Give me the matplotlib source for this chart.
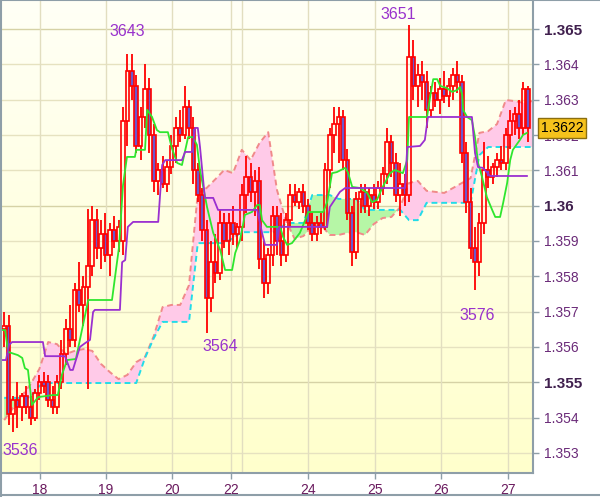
import numpy as np
import matplotlib
matplotlib.use("Agg")
import matplotlib.pyplot as plt
from matplotlib.colors import LinearSegmentedColormap
from matplotlib.lines import Line2D
import matplotlib.transforms as mtransforms

plt.rcParams['font.family'] = ['Liberation Sans', 'DejaVu Sans']

# candles, one per bar slot
opens = [1.3565, 1.3566, 1.3541, 1.3545, 1.3543, 1.3546, 1.3543, 1.3540, 1.3547, 1.3550,
         1.3550, 1.3545, 1.3543, 1.3550, 1.3558, 1.3565, 1.3562, 1.3576, 1.3572, 1.3577,
         1.3583, 1.3596, 1.3588, 1.3592, 1.3586, 1.3593, 1.3590, 1.3590, 1.3624, 1.3638,
         1.3634, 1.3617, 1.3625, 1.3633, 1.3620, 1.3607, 1.3610, 1.3606, 1.3611, 1.3617,
         1.3622, 1.3620, 1.3628, 1.3622, 1.3610, 1.3603, 1.3593, 1.3574, 1.3584, 1.3581,
         1.3595, 1.3590, 1.3595, 1.3592, 1.3594, 1.3603, 1.3608, 1.3604, 1.3607, 1.3585,
         1.3578, 1.3586, 1.3597, 1.3590, 1.3586, 1.3596, 1.3603, 1.3601, 1.3604, 1.3600,
         1.3595, 1.3592, 1.3595, 1.3594, 1.3610, 1.3620, 1.3623, 1.3625, 1.3613, 1.3598,
         1.3587, 1.3602, 1.3604, 1.3600, 1.3603, 1.3601, 1.3605, 1.3609, 1.3618, 1.3612,
         1.3603, 1.3606, 1.3603, 1.3642, 1.3634, 1.3637, 1.3635, 1.3627, 1.3632, 1.3630,
         1.3633, 1.3631, 1.3634, 1.3637, 1.3635, 1.3615, 1.3601, 1.3588, 1.3584, 1.3595,
         1.3610, 1.3608, 1.3611, 1.3613, 1.3612, 1.3620, 1.3624, 1.3626, 1.3622, 1.3633]
highs = [1.3570, 1.3569, 1.3546, 1.3550, 1.3547, 1.3549, 1.3546, 1.3548, 1.3552, 1.3553,
         1.3552, 1.3549, 1.3552, 1.3562, 1.3568, 1.3572, 1.3578, 1.3584, 1.3580, 1.3599,
         1.3600, 1.3599, 1.3596, 1.3598, 1.3595, 1.3597, 1.3596, 1.3628, 1.3643, 1.3643,
         1.3637, 1.3628, 1.3640, 1.3636, 1.3623, 1.3612, 1.3614, 1.3613, 1.3620, 1.3625,
         1.3627, 1.3634, 1.3630, 1.3625, 1.3612, 1.3605, 1.3596, 1.3590, 1.3592, 1.3599,
         1.3598, 1.3598, 1.3600, 1.3595, 1.3606, 1.3614, 1.3612, 1.3610, 1.3611, 1.3590,
         1.3588, 1.3600, 1.3600, 1.3598, 1.3598, 1.3606, 1.3606, 1.3605, 1.3606, 1.3602,
         1.3598, 1.3597, 1.3598, 1.3612, 1.3622, 1.3628, 1.3628, 1.3627, 1.3616, 1.3600,
         1.3604, 1.3606, 1.3606, 1.3605, 1.3606, 1.3607, 1.3611, 1.3622, 1.3620, 1.3615,
         1.3612, 1.3609, 1.3651, 1.3647, 1.3640, 1.3641, 1.3638, 1.3634, 1.3635, 1.3636,
         1.3638, 1.3636, 1.3639, 1.3641, 1.3637, 1.3618, 1.3605, 1.3594, 1.3598, 1.3618,
         1.3614, 1.3612, 1.3615, 1.3617, 1.3622, 1.3627, 1.3628, 1.3630, 1.3635, 1.3634]
lows = [1.3560, 1.3538, 1.3536, 1.3537, 1.3539, 1.3541, 1.3538, 1.3539, 1.3545, 1.3547,
        1.3543, 1.3541, 1.3541, 1.3548, 1.3555, 1.3560, 1.3560, 1.3570, 1.3566, 1.3548,
        1.3580, 1.3585, 1.3582, 1.3584, 1.3580, 1.3588, 1.3587, 1.3586, 1.3617, 1.3630,
        1.3615, 1.3613, 1.3622, 1.3615, 1.3604, 1.3603, 1.3605, 1.3604, 1.3609, 1.3612,
        1.3618, 1.3619, 1.3619, 1.3606, 1.3601, 1.3590, 1.3564, 1.3570, 1.3578, 1.3579,
        1.3588, 1.3586, 1.3589, 1.3588, 1.3590, 1.3598, 1.3601, 1.3597, 1.3582, 1.3574,
        1.3575, 1.3583, 1.3586, 1.3583, 1.3584, 1.3594, 1.3600, 1.3599, 1.3598, 1.3593,
        1.3590, 1.3590, 1.3592, 1.3593, 1.3605, 1.3615, 1.3612, 1.3610, 1.3596, 1.3583,
        1.3585, 1.3598, 1.3598, 1.3597, 1.3599, 1.3599, 1.3603, 1.3606, 1.3608, 1.3601,
        1.3597, 1.3600, 1.3601, 1.3630, 1.3628, 1.3630, 1.3622, 1.3625, 1.3628, 1.3626,
        1.3629, 1.3628, 1.3630, 1.3632, 1.3612, 1.3598, 1.3585, 1.3576, 1.3580, 1.3592,
        1.3605, 1.3606, 1.3608, 1.3610, 1.3610, 1.3616, 1.3620, 1.3619, 1.3620, 1.3618]
closes = [1.3566, 1.3541, 1.3545, 1.3543, 1.3546, 1.3543, 1.3540, 1.3547, 1.3550, 1.3549,
          1.3545, 1.3543, 1.3550, 1.3558, 1.3565, 1.3562, 1.3576, 1.3572, 1.3577, 1.3583,
          1.3596, 1.3588, 1.3592, 1.3586, 1.3593, 1.3590, 1.3594, 1.3624, 1.3638, 1.3634,
          1.3617, 1.3625, 1.3633, 1.3620, 1.3607, 1.3610, 1.3606, 1.3611, 1.3617, 1.3622,
          1.3620, 1.3628, 1.3622, 1.3610, 1.3603, 1.3593, 1.3574, 1.3584, 1.3581, 1.3595,
          1.3590, 1.3595, 1.3592, 1.3594, 1.3603, 1.3608, 1.3604, 1.3607, 1.3585, 1.3578,
          1.3586, 1.3597, 1.3590, 1.3586, 1.3596, 1.3603, 1.3601, 1.3604, 1.3600, 1.3595,
          1.3592, 1.3595, 1.3594, 1.3610, 1.3620, 1.3623, 1.3625, 1.3613, 1.3598, 1.3587,
          1.3602, 1.3604, 1.3600, 1.3603, 1.3601, 1.3605, 1.3609, 1.3618, 1.3612, 1.3603,
          1.3606, 1.3603, 1.3642, 1.3634, 1.3637, 1.3635, 1.3627, 1.3632, 1.3630, 1.3633,
          1.3631, 1.3634, 1.3637, 1.3635, 1.3615, 1.3601, 1.3588, 1.3584, 1.3595, 1.3610,
          1.3608, 1.3611, 1.3613, 1.3612, 1.3620, 1.3624, 1.3626, 1.3622, 1.3633, 1.3622]

# tenkan-sen (green) and kijun-sen (purple), read at their turning points
tenkan_x = [-0.5, 0.2, 0.9, 3.1, 4.1, 4.7, 5.4, 6.3, 7.7, 11.1, 12.2, 13.1, 14.3, 16.3, 17.2,
            19.1, 24.5, 25.4, 26.1, 27.0, 27.9, 29.7, 30.0, 32.0, 32.5, 33.6, 34.7, 35.4,
            37.2, 38.1, 39.3, 40.4, 41.8, 42.9, 43.8, 44.5, 46.1, 47.5, 49.1, 50.2, 51.8,
            52.5, 53.6, 54.7, 56.3, 57.5, 58.1, 58.6, 59.7, 62.7, 63.4, 64.3, 65.4, 67.2,
            68.4, 69.1, 72.5, 73.4, 74.5, 75.6, 77.5, 78.1, 79.1, 80.9, 82.5, 83.6, 84.7,
            85.9, 87.7, 88.8, 90.6, 91.6, 92.0, 96.1, 96.8, 97.5, 98.4, 99.1, 100.6, 101.8,
            102.9, 103.6, 104.1, 104.3, 105.2, 106.3, 107.0, 107.7, 108.6, 109.7, 110.9,
            111.6, 112.7, 113.4, 114.3, 115.0, 115.6, 117.2, 117.9, 118.8]
tenkan_y = [1.35648, 1.35648, 1.35586, 1.35577, 1.35569, 1.35540, 1.35535, 1.35436, 1.35458,
            1.35464, 1.35464, 1.35521, 1.35563, 1.35566, 1.35620, 1.35733, 1.35733, 1.35818,
            1.35883, 1.36058, 1.36138, 1.36138, 1.36158, 1.36158, 1.36271, 1.36251, 1.36214,
            1.36208, 1.36208, 1.36163, 1.36121, 1.36115, 1.36194, 1.36194, 1.36172, 1.36101,
            1.35996, 1.35923, 1.35874, 1.35818, 1.35818, 1.35866, 1.35903, 1.35974, 1.35982,
            1.36002, 1.36002, 1.35959, 1.35940, 1.35940, 1.35911, 1.35889, 1.35894, 1.35923,
            1.35959, 1.35982, 1.35982, 1.36010, 1.36092, 1.36095, 1.36107, 1.36095, 1.36053,
            1.36050, 1.36036, 1.36010, 1.36016, 1.36050, 1.36092, 1.36101, 1.36092, 1.36129,
            1.36251, 1.36251, 1.36308, 1.36358, 1.36358, 1.36339, 1.36333, 1.36322, 1.36327,
            1.36336, 1.36313, 1.36271, 1.36251, 1.36242, 1.36194, 1.36121, 1.36081, 1.36024,
            1.35988, 1.35968, 1.35968, 1.36008, 1.36064, 1.36129, 1.36158, 1.36186, 1.36200,
            1.36206]
kijun_x = [-0.5, 0.4, 1.1, 1.8, 8.8, 9.3, 13.8, 15.0, 15.6, 17.2, 18.4, 19.5, 20.2, 20.6,
           26.3, 26.8, 27.5, 28.1, 29.3, 35.0, 35.9, 36.6, 40.4, 41.1, 42.7, 43.4, 44.0,
           44.5, 45.6, 47.5, 48.6, 57.5, 58.6, 59.3, 62.0, 62.5, 73.4, 74.0, 76.3, 77.5,
           91.1, 91.6, 94.5, 95.6, 96.3, 106.3, 107.0, 107.7, 108.8, 110.4, 118.8]
kijun_y = [1.35563, 1.35563, 1.35606, 1.35614, 1.35614, 1.35574, 1.35574, 1.35535, 1.35535,
           1.35600, 1.35611, 1.35620, 1.35699, 1.35705, 1.35705, 1.35840, 1.35846, 1.35940,
           1.35954, 1.35954, 1.36115, 1.36129, 1.36129, 1.36152, 1.36152, 1.36220, 1.36220,
           1.36166, 1.36022, 1.36022, 1.35988, 1.35988, 1.35923, 1.35889, 1.35889, 1.35940,
           1.35940, 1.35996, 1.36039, 1.36050, 1.36050, 1.36166, 1.36169, 1.36186, 1.36251,
           1.36251, 1.36149, 1.36109, 1.36107, 1.36084, 1.36084]

# cloud, read every second slot
cloud_x = list(range(0, 121, 2))
span_a = [1.35393, 1.35427, 1.35461, 1.35495, 1.35538, 1.35614, 1.35608, 1.35580, 1.35589, 1.35594,
          1.35589, 1.35552, 1.35529, 1.35509, 1.35521, 1.35557, 1.35572, 1.35631, 1.35713, 1.35719,
          1.35719, 1.35775, 1.36036, 1.36050, 1.36075, 1.36101, 1.36092, 1.36158, 1.36129, 1.36177,
          1.36208, 1.36044, 1.35959, 1.35906, 1.35914, 1.35942, 1.35945, 1.35917, 1.35917, 1.35923,
          1.35925, 1.35917, 1.35948, 1.35965, 1.35968, 1.35996, 1.36064, 1.36070, 1.36042, 1.36039,
          1.36036, 1.36050, 1.36064, 1.36078, 1.36206, 1.36211, 1.36231, 1.36299, 1.36296, 1.36291,
          1.36296]
span_b = [1.35456, 1.35456, 1.35456, 1.35458, 1.35490, 1.35498, 1.35498, 1.35498, 1.35498, 1.35498,
          1.35498, 1.35498, 1.35498, 1.35498, 1.35498, 1.35498, 1.35569, 1.35625, 1.35671, 1.35671,
          1.35671, 1.35671, 1.35894, 1.35894, 1.35894, 1.35894, 1.35908, 1.35925, 1.35925, 1.35925,
          1.35925, 1.35925, 1.35951, 1.35951, 1.35951, 1.36030, 1.36030, 1.36030, 1.36019, 1.36019,
          1.36019, 1.35988, 1.35988, 1.35988, 1.35988, 1.35988, 1.35959, 1.35959, 1.36008, 1.36008,
          1.36008, 1.36008, 1.36008, 1.36008, 1.36143, 1.36166, 1.36166, 1.36166, 1.36166, 1.36166,
          1.36166]

# marked extremes
extreme_text = ['3643', '3651', '3564', '3576', '3536']
extreme_x = [27.9, 89.5, 49.0, 107.5, 3.6]
extreme_y = [1.36492, 1.36540, 1.35600, 1.35688, 1.35306]

last_price = 1.3622
ytick_vals = [1.353, 1.354, 1.355, 1.356, 1.357, 1.358, 1.359, 1.360, 1.361, 1.362, 1.363, 1.364, 1.365]
ytick_labels = ['1.353', '1.354', '1.355', '1.356', '1.357', '1.358', '1.359', '1.36',
                '1.361', '1.362', '1.363', '1.364', '1.365']
bold_labels = ['1.355', '1.36', '1.365']
day_labels = ['18', '19', '20', '22', '24', '25', '26', '27']
day_pos = [8.1, 23.1, 38.1, 51.5, 69.0, 84.3, 99.3, 114.5]
extra_vgrid = [54.0]

fig = plt.figure(figsize=(6.0, 4.97), dpi=100)
fig.patch.set_facecolor('white')
ax = fig.add_axes([2 / 600, 24 / 497, 531 / 600, 472 / 497])
xmin, xmax = -0.5, 120.18
ymin, ymax = 1.352433, 1.365793
ax.set_xlim(xmin, xmax)
ax.set_ylim(ymin, ymax)

# background gradient
bg = LinearSegmentedColormap.from_list('bg', ['#fffff6', '#ffffcc'])
ax.imshow(np.linspace(0, 1, 256).reshape(-1, 1), extent=[xmin, xmax, ymin, ymax],
          aspect='auto', cmap=bg, origin='upper', zorder=0)

# grid
for v, lab in zip(ytick_vals, ytick_labels):
    c = '#d6d2a6' if lab in bold_labels else '#e6e2c0'
    ax.axhline(v, color=c, lw=1.0, zorder=0.5)
for p in day_pos + extra_vgrid:
    ax.axvline(p, color='#e2dec0', lw=1.0, zorder=0.5)

# cloud
a = np.array(span_a)
b = np.array(span_b)
ax.fill_between(cloud_x, a, b, where=a >= b, interpolate=True, color='#ffcae8', lw=0, zorder=1)
ax.fill_between(cloud_x, a, b, where=a < b, interpolate=True, color='#b6f6a6', lw=0, zorder=1)
ax.plot(cloud_x, a, color='#f08a8a', lw=1.4, ls=(0, (3, 2)), zorder=2)
ax.plot(cloud_x, b, color='#22dce8', lw=1.4, ls=(0, (3, 2)), zorder=2)

# candles
o = np.array(opens)
h = np.array(highs)
l = np.array(lows)
c = np.array(closes)
x = np.arange(len(c))
top = np.maximum(o, c)
bot = np.minimum(o, c)
ax.vlines(x, l, bot, color='#ff0000', lw=1.3, zorder=4)
ax.vlines(x, top, h, color='#ff0000', lw=1.3, zorder=4)
bear = c < o
hgt = np.maximum(top - bot, 0.00002)
ax.bar(x[bear], hgt[bear], bottom=bot[bear], width=0.8, facecolor='#6c58cc',
       edgecolor='#ff0000', lw=1.2, zorder=5)
ax.bar(x[~bear], hgt[~bear], bottom=bot[~bear], width=0.8, facecolor='none',
       edgecolor='#ff0000', lw=1.2, zorder=5)

# tenkan / kijun
ax.plot(tenkan_x, tenkan_y, color='#2ee62e', lw=1.3, zorder=6)
ax.plot(kijun_x, kijun_y, color='#9a30d0', lw=1.3, zorder=6)

for t, tx, ty in zip(extreme_text, extreme_x, extreme_y):
    ax.text(tx, ty, t, color='#9932cc', fontsize=11.5, ha='center', va='center', zorder=8,
            clip_on=False)

# axes styling
for s in ['left', 'top']:
    ax.spines[s].set_visible(False)
for s in ['right', 'bottom']:
    ax.spines[s].set_color('#8e9ea8')
    ax.spines[s].set_linewidth(1.5)

ax.yaxis.tick_right()
ax.set_yticks(ytick_vals)
ax.set_yticklabels(ytick_labels)
ax.tick_params(axis='y', direction='out', length=4, width=1, color='#8e9ea8', pad=4,
               labelsize=10, labelcolor='#6a2a78')
for tl in ax.get_yticklabels():
    if tl.get_text() in bold_labels:
        tl.set_fontweight('bold')
        tl.set_fontsize(11)
        tl.set_color('#40204e')
ax.set_xticks(day_pos)
ax.set_xticklabels(day_labels)
ax.tick_params(axis='x', direction='out', length=4, width=1, color='#8e9ea8', pad=3,
               labelsize=10, labelcolor='#6a1a5e')

# last price box
trans = mtransforms.blended_transform_factory(ax.transAxes, ax.transData)
ax.text(1.0147, last_price, '%.4f' % last_price, transform=trans, ha='left', va='center',
        fontsize=10, color='black', zorder=10, clip_on=False,
        bbox=dict(boxstyle='square,pad=0.2', fc='#f6c21c', ec='#8a6e10', lw=1))

# outer frame
fc = '#8e9ea8'
fig.add_artist(Line2D([0.001, 0.001], [0, 1], transform=fig.transFigure, color=fc, lw=1.5))
fig.add_artist(Line2D([0, 1], [0.999, 0.999], transform=fig.transFigure, color=fc, lw=1.5))
fig.add_artist(Line2D([0, 1], [2 / 497, 2 / 497], transform=fig.transFigure, color=fc, lw=1.5))

fig.savefig('out.png', dpi=100, facecolor='white')
